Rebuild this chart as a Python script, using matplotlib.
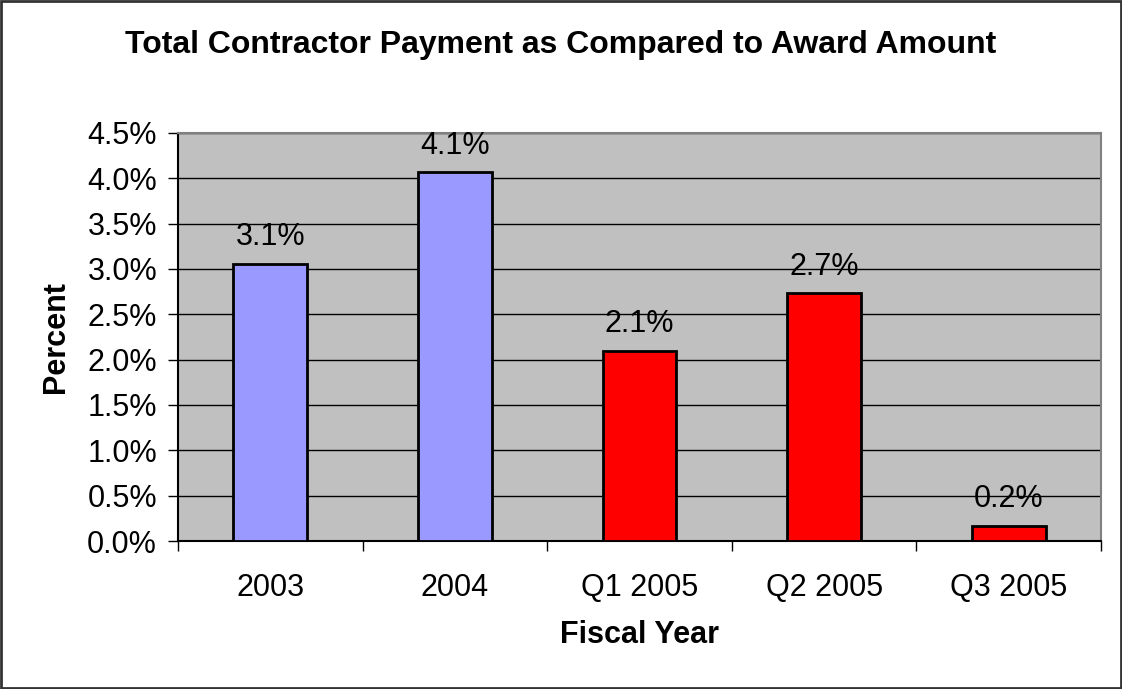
import numpy as np
import matplotlib.pyplot as plt
from matplotlib.ticker import FuncFormatter, MultipleLocator

# fiscal year categories and percent of award paid to contractors
years = ['2003', '2004', 'Q1 2005', 'Q2 2005', 'Q3 2005']
pct = [3.06, 4.07, 2.10, 2.73, 0.17]
labels = ['3.1%', '4.1%', '2.1%', '2.7%', '0.2%']
colors = ['#9999FF', '#9999FF', '#FF0000', '#FF0000', '#FF0000']

plt.rcParams['font.family'] = ['Liberation Sans', 'DejaVu Sans']

fig = plt.figure(figsize=(11.22, 6.89), dpi=100)
ax = fig.add_axes([0.1586, 0.2148, 0.8227, 0.5922])

x = np.arange(len(years))
bars = ax.bar(x, pct, width=0.40, color=colors, edgecolor='black', linewidth=2, zorder=3)

for xi, v, lab in zip(x, pct, labels):
    ax.annotate(lab, (xi, v), xytext=(0, 8), textcoords='offset points',
                ha='center', va='bottom', fontsize=22)

ax.set_facecolor('#C0C0C0')
ax.set_xlim(-0.5, len(years) - 0.5)
ax.set_ylim(0, 4.5)
ax.yaxis.set_major_locator(MultipleLocator(0.5))
ax.yaxis.set_major_formatter(FuncFormatter(lambda v, p: f'{v:.1f}%'))
ax.grid(axis='y', color='black', linewidth=1, zorder=1)

ax.set_xticks(x)
ax.set_xticklabels(years)
ax.set_xticks(np.arange(len(years) + 1) - 0.5, minor=True)
ax.tick_params(axis='x', which='major', length=0, labelsize=22, pad=23)
ax.tick_params(axis='x', which='minor', length=7, width=1, color='black')
ax.tick_params(axis='y', length=7, width=1, labelsize=22, pad=8)

for s in ax.spines.values():
    s.set_color('#808080')
    s.set_linewidth(1.5)
ax.spines['left'].set_color('black')
ax.spines['bottom'].set_color('black')

ax.set_xlabel('Fiscal Year', fontsize=22, fontweight='bold', labelpad=12)
ax.set_ylabel('Percent', fontsize=22, fontweight='bold', labelpad=12)
fig.text(0.5, 0.934, 'Total Contractor Payment as Compared to Award Amount',
         ha='center', va='center', fontsize=23, fontweight='bold')

# outer chart border
fig.patches.append(plt.Rectangle((0.001, 0.001), 0.998, 0.997, transform=fig.transFigure,
                                 fill=False, edgecolor='#333333', linewidth=2))

fig.savefig('out.png', dpi=100)
